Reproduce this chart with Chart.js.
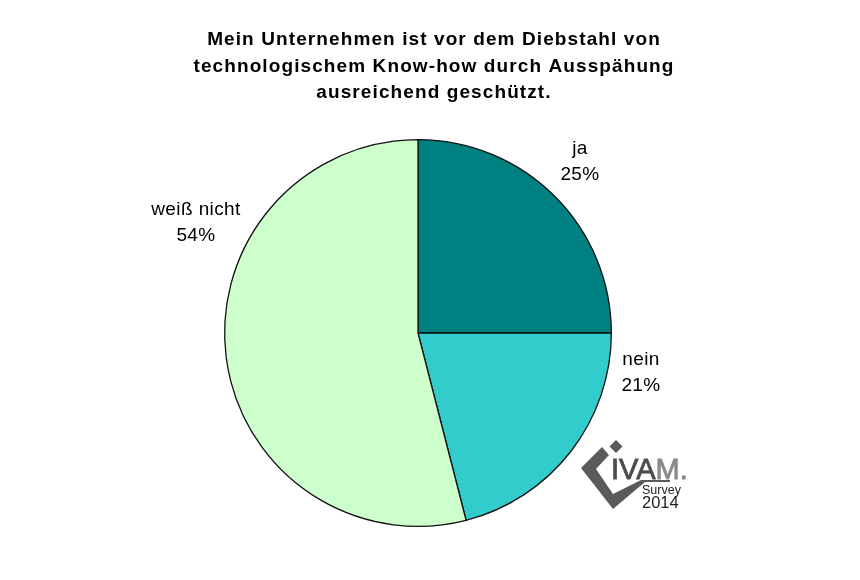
<!DOCTYPE html>
<html>
<head>
<meta charset="utf-8">
<script src="https://cdn.jsdelivr.net/npm/chart.js@4/dist/chart.umd.min.js"></script>
<style>
html,body{margin:0;padding:0;background:#fff;}
#wrap{width:860px;height:580px;}
</style>
</head>
<body>
<div id="wrap"><canvas id="c" width="860" height="580"></canvas></div>
<script>
const titleLines = ["Mein Unternehmen ist vor dem Diebstahl von", "technologischem Know-how durch Ausspähung", "ausreichend geschützt."];
const categories = ["ja", "nein", "weiß nicht"];
const values = [25, 21, 54];
const colors = ["#008080", "#33CCCC", "#CCFFCC"];

const overlay = {
  id: 'overlay',
  afterDraw(chart) {
    const ctx = chart.ctx;
    const meta = chart.getDatasetMeta(0);
    const cx = meta.data[0].x, cy = meta.data[0].y;
    ctx.save();
    // title
    ctx.fillStyle = '#000';
    ctx.textAlign = 'center';
    ctx.textBaseline = 'alphabetic';
    ctx.font = 'bold 19px "Liberation Sans", Arial, sans-serif';
    ctx.letterSpacing = '1.1px';
    titleLines.forEach((t, i) => ctx.fillText(t, 434, 45 + i * 26.5));
    // labels
    ctx.font = '19px "Liberation Sans", Arial, sans-serif';
    ctx.letterSpacing = '0.4px';
    const pos = [[580, 154], [641, 365], [196, 215]];
    categories.forEach((c, i) => {
      const x = cx + (pos[i][0] - 418), y = cy + (pos[i][1] - 333);
      ctx.fillText(c, x, y);
      ctx.fillText(values[i] + '%', x, y + 26);
    });
    ctx.letterSpacing = '0px';
    // logo
    ctx.fillStyle = '#5a5a5a';
    ctx.beginPath();
    ctx.moveTo(616, 440); ctx.lineTo(622.5, 446.5); ctx.lineTo(616, 453); ctx.lineTo(609.5, 446.5); ctx.closePath();
    ctx.fill();
    ctx.beginPath();
    ctx.moveTo(602, 447);
    ctx.lineTo(581, 468);
    ctx.lineTo(613, 509);
    ctx.lineTo(645, 482);
    ctx.lineTo(670, 482);
    ctx.lineTo(670, 480);
    ctx.lineTo(641, 480);
    ctx.lineTo(613, 494);
    ctx.lineTo(596, 469);
    ctx.lineTo(609, 455);
    ctx.closePath();
    ctx.fill();
    ctx.textAlign = 'left';
    ctx.font = '29px "Liberation Sans", Arial, sans-serif';
    ctx.lineWidth = 0.8;
    ctx.fillStyle = '#4d4d4d';
    ctx.strokeStyle = '#4d4d4d';
    ctx.fillText('IVA', 611, 479);
    ctx.strokeText('IVA', 611, 479);
    const w = ctx.measureText('IVA').width;
    ctx.fillStyle = '#8a8a8a';
    ctx.strokeStyle = '#8a8a8a';
    ctx.fillText('M.', 611 + w, 479);
    ctx.strokeText('M.', 611 + w, 479);
    ctx.fillStyle = '#222';
    ctx.font = '12.5px "Liberation Sans", Arial, sans-serif';
    ctx.fillText('Survey', 642, 494);
    ctx.font = '16.5px "Liberation Sans", Arial, sans-serif';
    ctx.fillText('2014', 642, 508);
    ctx.restore();
  }
};

new Chart(document.getElementById('c'), {
  type: 'pie',
  data: {
    labels: categories,
    datasets: [{
      data: values,
      backgroundColor: colors,
      borderColor: '#111',
      borderWidth: 1.3
    }]
  },
  options: {
    responsive: false,
    animation: false,
    layout: { padding: { left: 224, right: 248, top: 139, bottom: 53 } },
    plugins: { legend: { display: false }, title: { display: false }, tooltip: { enabled: false } }
  },
  plugins: [overlay]
});
</script>
</body>
</html>
